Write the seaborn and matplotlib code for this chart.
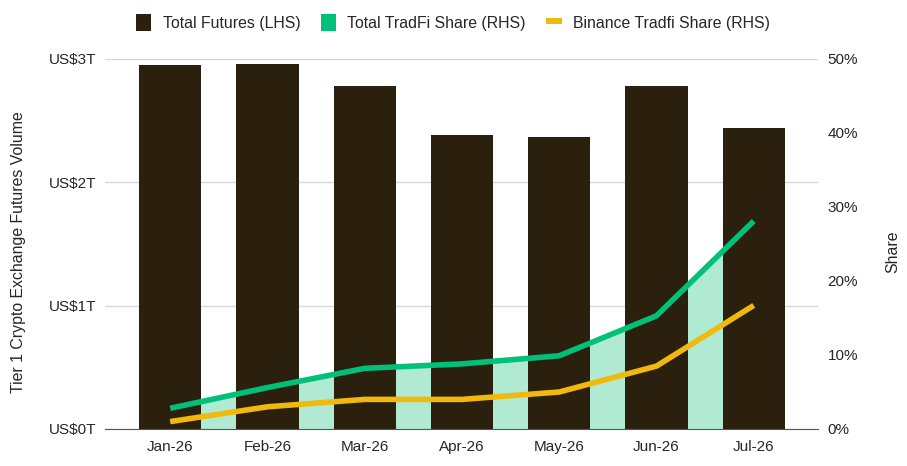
import numpy as np
import pandas as pd
import matplotlib
matplotlib.use("Agg")
import matplotlib.pyplot as plt
from matplotlib.patches import Patch
from matplotlib.lines import Line2D
from matplotlib.ticker import FuncFormatter
import seaborn as sns

# ---------------- DATA ----------------
months = ["Jan-26", "Feb-26", "Mar-26", "Apr-26", "May-26", "Jun-26", "Jul-26"]
total_futures_t = [2.95, 2.96, 2.78, 2.38, 2.37, 2.78, 2.44]   # US$ trillions
tradfi_share = [2.8, 5.6, 8.2, 8.8, 9.9, 15.3, 28.1]             # %
binance_share = [1.0, 3.0, 4.0, 4.0, 5.0, 8.5, 16.7]             # %

df = pd.DataFrame({
    "month": months,
    "futures": total_futures_t,
    "tradfi": tradfi_share,
    "binance": binance_share,
})

BAR = "#2b200e"
GREEN = "#00c07a"
GREEN_FILL = "#b0ead3"
YELLOW = "#f0b90b"

sns.set_style("white")
plt.rcParams["font.family"] = ["Liberation Sans", "DejaVu Sans"]
plt.rcParams["font.size"] = 11

fig = plt.figure(figsize=(9.07, 4.66), dpi=100)
ax = fig.add_axes([0.1158, 0.0794, 0.786, 0.794])

left_max = 3.0
right_max = 50.0
x = np.arange(len(months))

# light green area behind the bars (share mapped onto the left scale)
ax.fill_between(x, 0, df["tradfi"] * left_max / right_max, color=GREEN_FILL,
                linewidth=0, zorder=1)

sns.barplot(data=df, x="month", y="futures", color=BAR, width=0.64,
            saturation=1, linewidth=0, ax=ax, zorder=2)

ax.set_xlim(-0.67, 6.66)
ax.set_ylim(0, left_max)
ax.set_yticks([0, 1, 2, 3])
ax.yaxis.set_major_formatter(FuncFormatter(lambda v, p: f"US${v:.0f}T"))
ax.grid(axis="y", color="#d9d9d9", linewidth=1, zorder=0)
ax.set_axisbelow(True)
ax.set_xlabel("")
ax.set_ylabel("Tier 1 Crypto Exchange Futures Volume", fontsize=11.4)
ax.yaxis.set_label_coords(-0.111, 0.478)
ax.tick_params(axis="y", length=0, pad=6)
ax.tick_params(axis="x", length=0, pad=8)
for s in ["top", "left", "right"]:
    ax.spines[s].set_visible(False)
ax.spines["bottom"].set_color("#555555")

ax2 = ax.twinx()
sns.lineplot(x=x, y=df["tradfi"], color=GREEN, linewidth=4, ax=ax2,
             solid_capstyle="butt")
sns.lineplot(x=x, y=df["binance"], color=YELLOW, linewidth=4, ax=ax2,
             solid_capstyle="butt")
ax2.set_ylim(0, right_max)
ax2.set_yticks([0, 10, 20, 30, 40, 50])
ax2.yaxis.set_major_formatter(FuncFormatter(lambda v, p: f"{v:.0f}%"))
ax2.set_ylabel("Share", fontsize=11.4)
ax2.yaxis.set_label_coords(1.094, 0.478)
ax2.tick_params(axis="y", length=0, pad=7)
for s in ["top", "left", "right", "bottom"]:
    ax2.spines[s].set_visible(False)

handles = [
    Patch(facecolor=BAR, edgecolor=BAR, linewidth=0),
    Patch(facecolor=GREEN, edgecolor=GREEN, linewidth=0),
    Line2D([0], [0], color=YELLOW, linewidth=4.3, solid_capstyle="butt"),
]
labels = ["Total Futures (LHS)", "Total TradFi Share (RHS)", "Binance Tradfi Share (RHS)"]
fig.legend(handles, labels, loc="center", bbox_to_anchor=(0.4995, 0.952), ncol=3,
           frameon=False, fontsize=11.4, handlelength=0.95, handleheight=1.25,
           handletextpad=0.72, columnspacing=1.3)

fig.savefig("out.png", dpi=100)
